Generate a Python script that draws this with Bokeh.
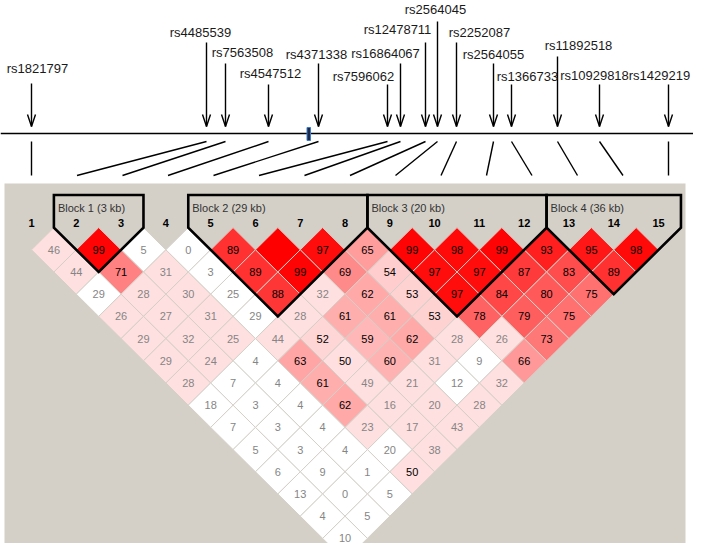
import numpy as np
from bokeh.plotting import figure
from bokeh.models import ColumnDataSource, Range1d
from bokeh.embed import file_html
from bokeh.resources import INLINE
from bokeh.core.properties import value

# ---------------- data ----------------
snps = ["rs1821797", "rs4485539", "rs7563508", "rs4547512", "rs4371338",
        "rs7596062", "rs16864067", "rs12478711", "rs2564045", "rs2252087",
        "rs2564055", "rs1366733", "rs11892518", "rs10929818", "rs1429219"]
# position of each SNP on the physical track (track units)
track_pos = [31, 206, 225, 268, 318, 387, 400, 425, 437, 456, 493, 511, 557, 599, 668]

# D' x100 by diagonal (k = j - i), listed from marker 1 onwards
dprime = [
    [46, 99, 5, 0, 89, 100, 97, 65, 99, 98, 99, 93, 95, 98],
    [44, 71, 31, 3, 89, 99, 69, 54, 97, 97, 87, 83, 89],
    [29, 28, 30, 25, 88, 32, 62, 53, 97, 84, 80, 75],
    [26, 27, 31, 29, 28, 61, 61, 53, 78, 79, 75],
    [29, 32, 25, 44, 52, 59, 62, 28, 26, 73],
    [29, 24, 4, 63, 50, 60, 31, 9, 66],
    [28, 7, 4, 61, 49, 21, 12, 32],
    [18, 3, 4, 62, 16, 20, 28],
    [7, 3, 4, 23, 17, 43],
    [5, 3, 4, 20, 38],
    [6, 9, 1, 50],
    [13, 0, 5],
    [4, 5],
    [10],
]
# LOD >= 2 flag, same layout
lod_sig = [
    [1, 1, 0, 0, 1, 1, 1, 1, 1, 1, 1, 1, 1, 1],
    [1, 1, 1, 0, 1, 1, 1, 1, 1, 1, 1, 1, 1],
    [0, 1, 1, 0, 1, 1, 1, 1, 1, 1, 1, 1],
    [1, 1, 1, 0, 1, 1, 1, 1, 1, 1, 1],
    [1, 1, 1, 1, 1, 1, 1, 1, 1, 1],
    [1, 1, 0, 1, 1, 1, 1, 0, 1],
    [1, 0, 0, 1, 1, 1, 0, 1],
    [0, 0, 0, 1, 1, 1, 1],
    [0, 0, 0, 1, 1, 1],
    [0, 0, 0, 0, 1],
    [0, 0, 0, 1],
    [0, 0, 0],
    [0, 0],
    [0],
]
block_first = [2, 5, 9, 13]
block_last = [3, 8, 12, 15]
block_kb = [3, 29, 20, 36]

# ---------------- layout ----------------
X0, SP = 31.0, 44.79          # first marker column, column spacing
HW, HH = SP / 2, 22.2         # diamond half width / half height
Y1 = 249.3                    # centre of first diamond row
CONN_SP = 45.5                # spacing of connector ends
LINE_Y = 133
arrow_top = [83, 42, 63, 84, 63, 84, 63, 42, 21, 42, 63, 84, 56, 84, 84]
label_y = [68, 32, 52, 73, 54, 76, 53, 29, 9, 32, 54, 76, 45, 75, 75]
label_x = [37, 200, 242, 270, 316, 363, 385, 397, 435, 479, 493, 527, 578, 594, 659]
FONT = value("Liberation Sans")

n = len(snps)
col_x = [X0 + i * SP for i in range(n)]

p = figure(width=693, height=543, x_range=Range1d(0, 693), y_range=Range1d(543, 0),
           output_backend="svg", toolbar_location=None, min_border=0,
           x_axis_type=None, y_axis_type=None)
p.grid.visible = False
p.outline_line_color = None
p.background_fill_color = "white"
p.border_fill_color = "white"

# grey panel
p.quad(left=[4], right=[685], top=[183], bottom=[600], fill_color="#d4d0c8", line_color=None)

# physical track
p.line([0, 700], [LINE_Y, LINE_Y], line_color="black", line_width=1.6)
p.quad(left=[306.5], right=[310], top=[127], bottom=[140], fill_color="#1b2a4a",
       line_color="#3d7cc9", line_width=1)

# arrows
p.segment(x0=track_pos, y0=arrow_top, x1=track_pos, y1=[126] * n, line_color="black", line_width=1.4)
p.multi_line(xs=[[x - 4, x, x + 4] for x in track_pos], ys=[[114, 126, 114]] * n,
             line_color="black", line_width=1.4)
p.text(x=label_x, y=label_y, text=snps, text_align="center", text_baseline="middle",
       text_font=FONT, text_font_size="13px", text_color="#1a1a1a")

# connectors
p.segment(x0=track_pos, y0=[141] * n, x1=[X0 + i * CONN_SP for i in range(n)], y1=[175] * n,
          line_color="black", line_width=1.4)

# LD cells
xs, ys, cols, tx, ty, tt, tc = [], [], [], [], [], [], []
for k, (drow, srow) in enumerate(zip(dprime, lod_sig), start=1):
    for i, (d, s) in enumerate(zip(drow, srow)):
        j = i + k
        cx = (col_x[i] + col_x[j]) / 2
        cy = Y1 + (k - 1) * HH
        xs.append([cx - HW, cx, cx + HW, cx])
        ys.append([cy, cy - HH, cy, cy + HH])
        if s:
            if d < 50:
                c = "#ffe0e0"
            else:
                g = int(round((255 - 32) * 2 * (1 - d / 100)))
                c = "#ff%02x%02x" % (g, g)
        else:
            c = "#ffffff"
        cols.append(c)
        if d < 100:
            tx.append(cx); ty.append(cy); tt.append(str(d))
            tc.append("#000000" if d >= 50 else "#858585")
p.patches(xs=xs, ys=ys, fill_color=cols, line_color="#d4d0c8", line_width=1)
p.text(x=tx, y=ty, text=tt, text_color=tc, text_align="center", text_baseline="middle",
       text_font=FONT, text_font_size="11px")

# marker numbers
p.text(x=col_x, y=[222] * n, text=[str(i + 1) for i in range(n)], text_align="center",
       text_baseline="middle", text_font=FONT, text_font_size="11px",
       text_font_style="bold", text_color="black")

# blocks
bxs, bys, lx, lt = [], [], [], []
TOP = 194.5
for f, l, kb in zip(block_first, block_last, block_kb):
    xl = col_x[f - 1] - HW
    xr = col_x[l - 1] + HW
    xb = (col_x[f - 1] + col_x[l - 1]) / 2
    yb = Y1 + (l - f - 1) * HH + HH
    yd = Y1 - HH
    bxs.append([xl, xl, xb, xr, xr])
    bys.append([TOP, yd, yb, yd, TOP])
    lx.append(xl + 4)
    lt.append("Block %d (%d kb)" % (len(lt) + 1, kb))
p.patches(xs=bxs, ys=bys, fill_color=None, line_color="black", line_width=2.6,
          line_join="miter")
p.text(x=lx, y=[207] * len(lx), text=lt, text_align="left", text_baseline="middle",
       text_font=FONT, text_font_size="11px", text_color="#333333")

open("out.html", "w").write(file_html(p, INLINE))
